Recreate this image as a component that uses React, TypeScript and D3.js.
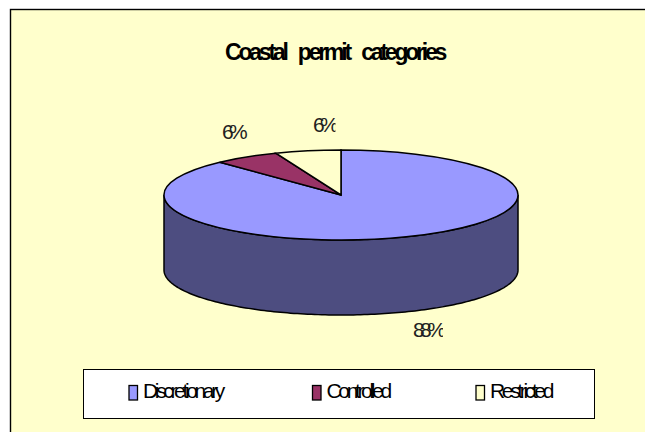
import React from "react";
import * as d3 from "d3";

const categories = ["Discretionary", "Controlled", "Restricted"];
const values = [88, 6, 6];
const percentLabels = ["88%", "6%", "6%"];
const topColors = ["#9999FF", "#993366", "#FFFFCC"];
const wallColors = ["#4D4D80", "#4D1A33", "#808066"];

const W = 645, H = 432;
const cx = 341, cy = 195, rx = 177, ry = 45, depth = 75;

const pie = d3.pie<number>().sort(null).startAngle(0).endAngle(2 * Math.PI);
const slices = pie(values);
const arc = d3.arc<d3.PieArcDatum<number>>().innerRadius(0).outerRadius(rx);
const squash = `translate(${cx},${cy}) scale(1,${ry / rx})`;

const rim = (a: number) => cy - ry * Math.cos(a);
const wallAngles = d3.range(Math.PI / 2, (3 * Math.PI) / 2 + 0.001, 0.02);
const wall = d3.area<number>()
  .x((a) => cx + rx * Math.sin(a))
  .y0((a) => rim(a))
  .y1((a) => rim(a) + depth);

const font = "'Liberation Sans', Arial, sans-serif";
const labelPos: [number, number, number][] = [[413, 337, 443], [222, 139, 250], [313, 132, 335.5]];
const legendX = [129, 312.5, 476];

export default function App() {
  return (
    <svg width={W} height={H} style={{ position: "fixed", left: 0, top: 0, display: "block" }} fontFamily={font}>
      <defs>
        {labelPos.map((p, i) => (
          <clipPath id={`lab${i}`} key={i}>
            <rect x={p[0] - 4} y={p[1] - 22} width={p[2] - p[0] + 4} height={32} />
          </clipPath>
        ))}
      </defs>
      <rect width={W} height={H} fill="#FFFFFF" />
      <rect x={10.5} y={9.5} width={660} height={440} fill="#FFFFCC" stroke="#000" strokeWidth={1.4} />
      <text x={225} y={60} fontSize={23} fontWeight={700} letterSpacing={-3.2} wordSpacing={9} fill="#000">
        Coastal permit categories
      </text>
      <path d={wall(wallAngles) ?? ""} fill={wallColors[0]} stroke="#000" strokeWidth={1.5} />
      <g transform={squash}>
        {slices.map((s, i) => (
          <path key={i} d={arc(s) ?? ""} fill={topColors[i]} stroke="#000" strokeWidth={1.5} style={{ vectorEffect: "non-scaling-stroke" }} />
        ))}
      </g>
      {percentLabels.map((t, i) => (
        <g key={i} clipPath={`url(#lab${i})`}>
          <text x={labelPos[i][0]} y={labelPos[i][1]} fontSize={21} letterSpacing={-4.6} fill="#222">
            {t}
          </text>
        </g>
      ))}
      <rect x={83.5} y={369.5} width={511} height={49} fill="#FFFFFF" stroke="#000" strokeWidth={1} />
      {categories.map((c, i) => (
        <g key={c}>
          <rect x={legendX[i]} y={385.5} width={8.5} height={14.5} fill={topColors[i]} stroke="#000" strokeWidth={1.3} />
          <text x={legendX[i] + 14} y={398} fontSize={21} letterSpacing={-3.35} fill="#000">
            {c}
          </text>
        </g>
      ))}
    </svg>
  );
}
